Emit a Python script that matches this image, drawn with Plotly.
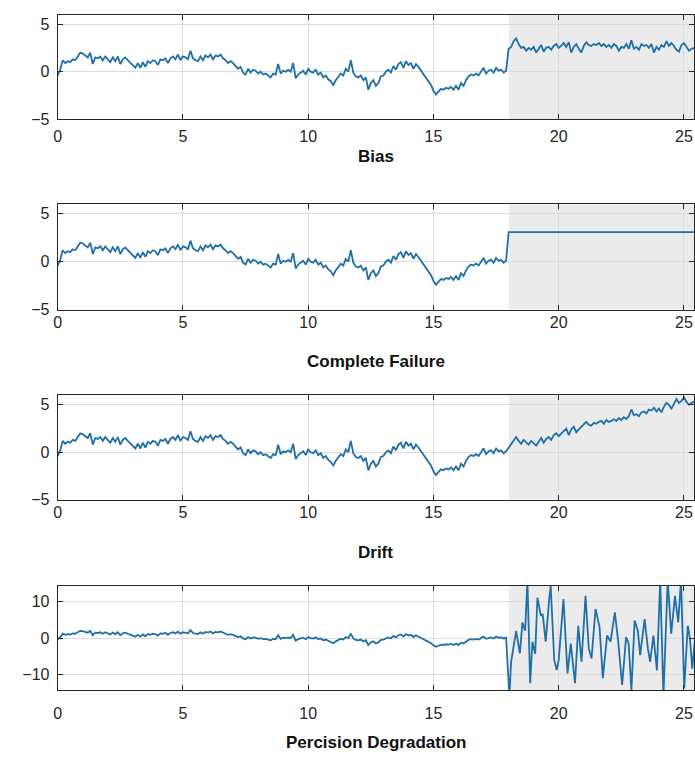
import plotly.graph_objects as go

# ---------------- data ----------------
dt = 0.1
fault_start = 18.0

base_signal = [
    -0.4, 0.2, 1.2, 0.9, 1.1, 1.0, 1.3, 1.2, 1.6, 2.0,
    1.9, 1.7, 1.5, 2.0, 0.8, 1.5, 1.4, 1.6, 1.2, 1.6,
    1.3, 1.0, 1.5, 1.1, 1.6, 0.8, 1.3, 1.5, 1.2, 0.9,
    0.6, 0.4, 0.9, 0.4, 1.0, 0.5, 1.1, 0.9, 1.2, 1.1,
    0.7, 1.3, 1.2, 1.4, 0.9, 1.4, 1.6, 1.3, 1.8, 1.2,
    1.6, 1.5, 1.3, 2.2, 1.4, 1.2, 1.1, 1.6, 1.2, 1.7,
    1.5, 1.8, 1.3, 1.7, 1.6, 1.8, 1.4, 1.2, 0.9, 1.1,
    0.9, 0.6, 0.3, 0.5, -0.1, -0.3, 0.3, -0.1, 0.2, 0.1,
    -0.2, 0.0, -0.3, -0.2, -0.4, -0.6, -0.2, -0.3, 0.8, -0.2,
    0.1, 0.0, 0.2, 0.0, 0.9, -0.7, -0.3, -0.1, 0.1, -0.3,
    0.3, 0.0, -0.1, 0.2, -0.3, -0.1, -0.6, -0.4, -0.8, -1.0,
    -1.4, -0.9, -0.6, -0.2, -0.4, 0.3, 0.0, 1.2, -0.1, -0.5,
    -0.6, -0.4, -0.9, -0.6, -1.9, -1.2, -0.9, -1.5, -1.2, -0.5,
    -0.4, 0.0, 0.2, -0.1, 0.6, 0.2, 0.8, 1.0, 0.4, 1.1,
    0.7, 0.9, 0.3, 0.8, 0.5, 0.1, -0.3, -0.7, -1.0, -1.4,
    -2.0, -2.4, -2.1, -1.8, -1.9, -1.7, -1.8, -1.6, -1.9, -1.5,
    -1.9, -1.2, -1.5, -0.9, -0.5, -0.3, -0.4, -0.2, -0.4, 0.0,
    0.4, -0.2, 0.1, 0.2, -0.1, 0.4, 0.1, 0.2, -0.1, 0.1,
]

bias_tail = [
    2.4, 2.6, 3.2, 3.5, 2.9, 2.5, 2.6, 2.2, 2.5, 2.3,
    2.6, 2.0, 2.4, 2.8, 2.1, 2.5, 2.6, 2.3, 2.7, 2.9,
    2.5, 2.7, 3.0, 2.6, 3.1, 2.0, 2.6, 2.9, 2.4, 2.0,
    2.7, 3.1, 2.8, 2.7, 2.9, 2.8, 3.0, 2.7, 2.9, 2.6,
    2.8, 2.5, 2.9, 2.7, 2.2, 2.6, 2.5, 2.9, 2.4, 3.3,
    2.4, 2.6, 2.3, 2.9, 2.7, 2.8, 2.5, 2.9, 2.0, 2.6,
    2.3, 2.8, 2.6, 3.2, 2.7, 3.0, 2.7, 2.3, 2.1, 2.8,
    3.0, 2.6, 2.2, 2.4, 2.5,
]

failure_level = 3.1

drift_tail = [
    0.5, 0.8, 1.2, 1.6, 1.2, 0.9, 1.3, 1.0, 0.8, 1.2,
    0.9, 0.7, 1.1, 1.5, 1.0, 1.4, 1.6, 1.3, 1.8, 2.0,
    1.7, 2.0, 2.3, 2.5, 1.8, 2.4, 2.7, 2.1, 2.4, 2.7,
    2.9, 3.2, 2.9, 2.8, 3.1, 3.0, 3.2, 3.3, 3.0, 3.4,
    3.2, 3.3, 3.5, 3.3, 3.6, 3.4, 3.7, 3.5, 3.8, 4.5,
    3.9, 4.0, 3.8, 4.2, 4.3, 4.1, 4.5, 4.4, 4.7, 4.3,
    4.6, 4.2, 4.8, 5.2, 5.0, 4.6, 5.1, 5.6, 5.2, 5.4,
    5.8, 5.3, 5.0, 5.2, 5.3,
]

precision_t = [
    18.03, 18.10, 18.30, 18.45, 18.55, 18.66, 18.75, 18.86, 18.95, 19.06,
    19.15, 19.29, 19.36, 19.48, 19.62, 19.68, 19.82, 19.92, 20.00, 20.19,
    20.35, 20.48, 20.65, 20.78, 20.91, 21.07, 21.20, 21.31, 21.47, 21.63,
    21.76, 21.93, 22.07, 22.24, 22.37, 22.53, 22.69, 22.79, 22.90, 23.03,
    23.16, 23.25, 23.43, 23.56, 23.65, 23.78, 23.92, 24.05, 24.18, 24.35,
    24.49, 24.64, 24.77, 24.88, 25.01, 25.15, 25.24, 25.33, 25.43,
]
precision_tail = [
    -16.0, -6.5, 2.0, -4.2, 4.3, 2.0, 16.0, -12.4, -1.0, -4.3,
    11.1, 6.1, 6.6, -1.0, 10.7, 14.3, -6.0, -8.8, -6.0, 10.7,
    -9.7, -1.5, -12.4, 3.4, -6.5, 11.6, -2.9, -5.6, 8.0, 3.0,
    -11.0, 0.7, -1.0, 7.1, -0.6, -12.9, 0.3, -1.5, -14.3, 4.8,
    2.0, -4.7, 5.2, -2.9, -6.5, 0.7, -8.8, 16.0, -16.0, 16.0,
    1.2, 11.6, 4.3, 16.0, -13.8, 3.4, -0.2, -8.4, -1.0,
]

panel_titles = ["Bias", "Complete Failure", "Drift", "Percision Degradation"]
x_ticks = [0, 5, 10, 15, 20, 25]
y_ticks_small = [-5, 0, 5]
y_ticks_large = [-10, 0, 10]
x_range = [0, 25.4]
y_range_small = [-5, 6]
y_range_large = [-14.4, 14.4]

# ---------------- build ----------------
t_base = [round(i * dt, 1) for i in range(len(base_signal))]
t_tail = [round(fault_start + i * dt, 1) for i in range(len(bias_tail))]
failure_tail = [failure_level for _ in t_tail]

series = [
    (t_base + t_tail, base_signal + bias_tail),
    (t_base + t_tail, base_signal + failure_tail),
    (t_base + t_tail, base_signal + drift_tail),
    (t_base + precision_t, base_signal + precision_tail),
]

W, H = 695, 764
px_left, px_right = 54, 694
panel_px = [(14.7, 120.7), (206.7, 313.3), (400.0, 505.7), (592.7, 698.7)]
tick_standoff = [3, -2, -2, 8]
title_offset = [38, 53, 53, 53]

LINE = "#1f6fa8"
AX = "#262626"
GRID = "#dcdcdc"
FONT = "Liberation Sans, Arial, sans-serif"

fig = go.Figure()
for i, (tx, ty) in enumerate(series):
    n = "" if i == 0 else str(i + 1)
    fig.add_trace(go.Scatter(x=tx, y=ty, mode="lines",
                             line=dict(color=LINE, width=1.8),
                             xaxis="x" + n, yaxis="y" + n, showlegend=False))
    top, bot = panel_px[i]
    ydom = [1 - bot / H, 1 - top / H]
    xdom = [px_left / W, px_right / W]
    yr = y_range_large if i == 3 else y_range_small
    yt = y_ticks_large if i == 3 else y_ticks_small
    fig.layout["xaxis" + n] = dict(
        domain=xdom, anchor="y" + n, range=x_range, tickvals=x_ticks,
        showgrid=True, gridcolor=GRID, gridwidth=1, zeroline=False,
        showline=True, linecolor=AX, linewidth=1, mirror="ticks",
        ticks="inside", ticklen=5, tickcolor=AX,
        tickfont=dict(family=FONT, size=16, color=AX),
        ticklabelstandoff=tick_standoff[i],
    )
    fig.layout["yaxis" + n] = dict(
        domain=ydom, anchor="x" + n, range=yr, tickvals=yt,
        showgrid=True, gridcolor=GRID, gridwidth=1, zeroline=False,
        showline=True, linecolor=AX, linewidth=1, mirror="ticks",
        ticks="inside", ticklen=5, tickcolor=AX,
        tickfont=dict(family=FONT, size=16, color=AX),
        ticklabelstandoff=4,
    )
    fig.add_shape(type="rect", xref="x" + n, yref="y" + n,
                  x0=fault_start, x1=x_range[1], y0=yr[0], y1=yr[1],
                  fillcolor="#ebebeb", line=dict(width=0), layer="below")
    fig.add_annotation(text="<b>" + panel_titles[i] + "</b>",
                       xref="paper", yref="paper",
                       x=(px_left + px_right) / 2 / W,
                       y=1 - (bot + title_offset[i]) / H,
                       xanchor="center", yanchor="middle", showarrow=False,
                       font=dict(family=FONT, size=17, color="#111111"))

fig.update_layout(width=W, height=H, margin=dict(l=0, r=0, t=0, b=0),
                  paper_bgcolor="white", plot_bgcolor="white",
                  font=dict(family=FONT))
fig.write_html("out.html")
